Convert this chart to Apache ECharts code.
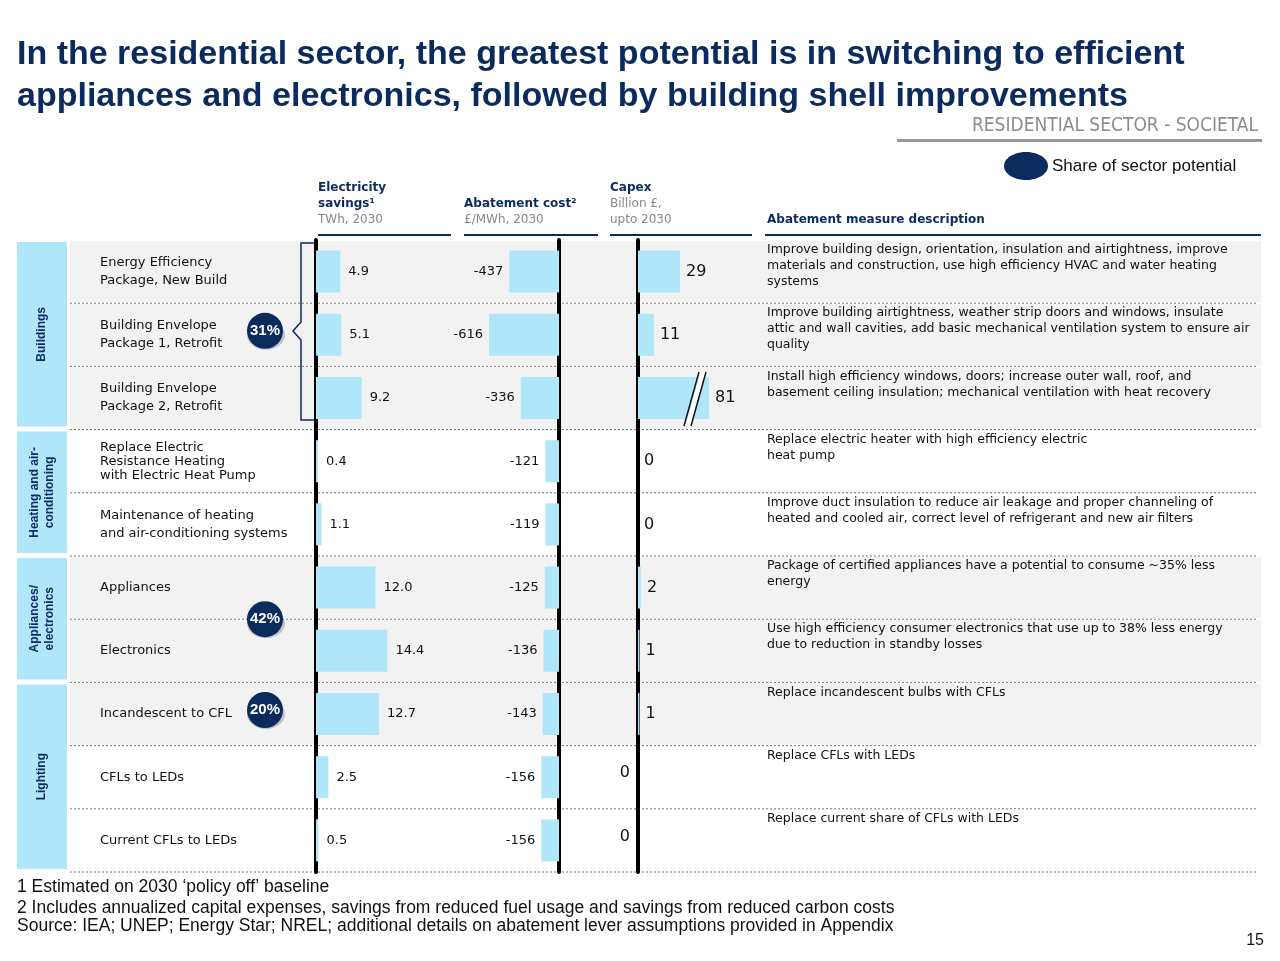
<!DOCTYPE html>
<html>
<head>
<meta charset="utf-8">
<script src="https://cdn.jsdelivr.net/npm/echarts@6/dist/echarts.min.js"></script>
<style>html,body{margin:0;padding:0;background:#fff}#c{width:1280px;height:961px}</style>
</head>
<body>
<div id="c"></div>
<script>
// 数据
var measures = ['Energy Efficiency\nPackage, New Build', 'Building Envelope\nPackage 1, Retrofit', 'Building Envelope\nPackage 2, Retrofit',
  'Replace Electric\nResistance Heating\nwith Electric Heat Pump', 'Maintenance of heating\nand air-conditioning systems',
  'Appliances', 'Electronics', 'Incandescent to CFL', 'CFLs to LEDs', 'Current CFLs to LEDs'];
var savings = [4.9, 5.1, 9.2, 0.4, 1.1, 12.0, 14.4, 12.7, 2.5, 0.5];
var abatement = [-437, -616, -336, -121, -119, -125, -136, -143, -156, -156];
var capex = [29, 11, 81, 0, 0, 2, 1, 1, 0, 0];
var descriptions = [
  'Improve building design, orientation, insulation and airtightness, improve\nmaterials and construction, use high efficiency HVAC and water heating\nsystems',
  'Improve building airtightness, weather strip doors and windows, insulate\nattic and wall cavities, add basic mechanical ventilation system to ensure air\nquality',
  'Install high efficiency windows, doors; increase outer wall, roof, and\nbasement ceiling insulation; mechanical ventilation with heat recovery',
  'Replace electric heater with high efficiency electric\nheat pump',
  'Improve duct insulation to reduce air leakage and proper channeling of\nheated and cooled air, correct level of refrigerant and new air filters',
  'Package of certified appliances have a potential to consume ~35% less\nenergy',
  'Use high efficiency consumer electronics that use up to 38% less energy\ndue to reduction in standby losses',
  'Replace incandescent bulbs with CFLs',
  'Replace CFLs with LEDs',
  'Replace current share of CFLs with LEDs'];
var groups = [['Buildings', 0, 2], ['Heating and air-\nconditioning', 3, 4], ['Appliances/\nelectronics', 5, 6], ['Lighting', 7, 9]];
var shares = [['31%', 1, 0], ['42%', 5, 1], ['20%', 7, 0]]; // label, row, at boundary below

var TOP = 240, H = 632, ROW = H / 10;
var NAVY = '#0b2a5e', BAR = '#b0e6f9', FONT = 'Verdana, "DejaVu Sans", sans-serif';
function cy(i) { return TOP + ROW * (i + 0.5); }

var g = [];
// title
g.push({ type: 'text', x: 17, y: 34, style: { text: 'In the residential sector, the greatest potential is in switching to efficient\nappliances and electronics, followed by building shell improvements', font: 'bold 34px "Liberation Sans", Arial', fill: NAVY, lineHeight: 42 } });
g.push({ type: 'text', x: 1258, y: 126, style: { text: 'RESIDENTIAL SECTOR - SOCIETAL', font: '19px "DejaVu Sans Condensed", sans-serif', fill: '#8c8c8c', align: 'right', verticalAlign: 'middle' } });
g.push({ type: 'rect', shape: { x: 897, y: 139, width: 365, height: 3 }, style: { fill: '#999' } });
g.push({ type: 'ellipse', shape: { cx: 1026, cy: 166, rx: 22, ry: 14 }, style: { fill: NAVY } });
g.push({ type: 'text', x: 1052, y: 166, style: { text: 'Share of sector potential', font: '17px "Liberation Sans", Arial', fill: '#111', verticalAlign: 'middle' } });
// column headers
function header(x, bold, sub, w) {
  g.push({ type: 'text', x: x, y: 180, style: { text: bold, font: 'bold 12px ' + FONT, fill: NAVY, lineHeight: 16 } });
  g.push({ type: 'text', x: x, y: 180 + 16 * bold.split('\n').length, style: { text: sub, font: '12px ' + FONT, fill: '#888', lineHeight: 16 } });
  g.push({ type: 'rect', shape: { x: x, y: 234, width: w, height: 2 }, style: { fill: NAVY } });
}
header(318, 'Electricity\nsavings¹', 'TWh, 2030', 133);
header(464, '\nAbatement cost²', '£/MWh, 2030', 134);
header(610, 'Capex', 'Billion £,\nupto 2030', 142);
g.push({ type: 'text', x: 767, y: 214, style: { text: 'Abatement measure description', font: 'bold 12px ' + FONT, fill: NAVY } });
g.push({ type: 'rect', shape: { x: 765, y: 234, width: 496, height: 2 }, style: { fill: NAVY } });
// row backgrounds, separators, labels
var grey = [0, 1, 2, 5, 6, 7];
measures.forEach(function (m, i) {
  if (grey.indexOf(i) >= 0) g.push({ type: 'rect', z: -10, shape: { x: 70, y: TOP + ROW * i + 1, width: 1191, height: ROW - 2 }, style: { fill: '#f2f2f2' } });
  if (i > 0) g.push({ type: 'line', z: -5, shape: { x1: 70, y1: TOP + ROW * i, x2: 1258, y2: TOP + ROW * i }, style: { stroke: '#777', lineWidth: 1, lineDash: [2, 2] } });
  g.push({ type: 'text', x: 100, y: cy(i), style: { text: m, font: '13px ' + FONT, fill: '#111', lineHeight: i === 3 ? 14 : 18, verticalAlign: 'middle' } });
  g.push({ type: 'text', x: 767, y: TOP + ROW * i + 2, style: { text: descriptions[i], font: '12.5px "DejaVu Sans", Verdana, sans-serif', fill: '#111', lineHeight: 16 } });
});
g.push({ type: 'line', z: -5, shape: { x1: 70, y1: TOP + H, x2: 1258, y2: TOP + H }, style: { stroke: '#777', lineDash: [2, 2] } });
// group blocks
groups.forEach(function (gr) {
  var y0 = TOP + ROW * gr[1] + 2, y1 = TOP + ROW * (gr[2] + 1) - 3;
  g.push({ type: 'rect', shape: { x: 17, y: y0, width: 50, height: y1 - y0 }, style: { fill: BAR } });
  g.push({ type: 'text', x: 42, y: (y0 + y1) / 2, rotation: Math.PI / 2, style: { text: gr[0], font: 'bold 12px "Liberation Sans", Arial', fill: NAVY, align: 'center', verticalAlign: 'middle', lineHeight: 15 } });
});
// bracket for buildings
g.push({ type: 'polyline', shape: { points: [[316, 243], [301, 243], [301, 322], [293, 331], [301, 340], [301, 420], [316, 420]] }, style: { stroke: NAVY, lineWidth: 1.5, fill: null } });
// share bubbles
shares.forEach(function (s) {
  var y = s[2] ? TOP + ROW * (s[1] + 1) : cy(s[1]) - 4;
  g.push({ type: 'ellipse', shape: { cx: 266, cy: y + 4, rx: 19, ry: 15 }, style: { fill: '#333', opacity: 0.25 } });
  g.push({ type: 'circle', shape: { cx: 265, cy: y, r: 18 }, style: { fill: NAVY } });
  g.push({ type: 'text', x: 265, y: y, style: { text: s[0], font: 'bold 15px "Liberation Sans", Arial', fill: '#fff', align: 'center', verticalAlign: 'middle' } });
});
// axis break on capex row 3
g.push({ type: 'line', z: 20, shape: { x1: 684, y1: 426, x2: 699, y2: 372 }, style: { stroke: '#111', lineWidth: 1.5 } });
g.push({ type: 'line', z: 20, shape: { x1: 691, y1: 426, x2: 706, y2: 372 }, style: { stroke: '#111', lineWidth: 1.5 } });
g.push({ type: 'line', z: 19, shape: { x1: 688, y1: 426, x2: 703, y2: 372 }, style: { stroke: '#fff', lineWidth: 5 } });
// footnotes
g.push({ type: 'text', x: 17, y: 887, style: { text: '1 Estimated on 2030 ‘policy off’ baseline', font: '17.5px "Liberation Sans", Arial', fill: '#111', verticalAlign: 'middle' } });
g.push({ type: 'text', x: 17, y: 908, style: { text: '2 Includes annualized capital expenses, savings from reduced fuel usage and savings from reduced carbon costs', font: '17.5px "Liberation Sans", Arial', fill: '#111', verticalAlign: 'middle' } });
g.push({ type: 'text', x: 17, y: 926, style: { text: 'Source: IEA; UNEP; Energy Star; NREL; additional details on abatement lever assumptions provided in Appendix', font: '17.5px "Liberation Sans", Arial', fill: '#111', verticalAlign: 'middle' } });
g.push({ type: 'text', x: 1264, y: 941, style: { text: '15', font: '16px "Liberation Sans", Arial', fill: '#111', align: 'right', verticalAlign: 'middle' } });

function yAx(idx, pos) {
  return { gridIndex: idx, type: 'category', inverse: true, data: measures, position: pos,
    axisLine: { show: true, onZero: false, lineStyle: { color: '#000', width: 4 } }, axisTick: { show: false }, axisLabel: { show: false } };
}
function xAx(idx, min, max) {
  return { gridIndex: idx, type: 'value', min: min, max: max, show: false, splitLine: { show: false } };
}
var lbl = { fontFamily: FONT, fontSize: 13, color: '#111' };
var chart = echarts.init(document.getElementById('c'));
chart.setOption({
  animation: false,
  grid: [
    { left: 316, width: 124, top: TOP, height: H },
    { left: 459, width: 100, top: TOP, height: H },
    { left: 638, width: 71, top: TOP, height: H }
  ],
  xAxis: [xAx(0, 0, 25), xAx(1, -880, 0), xAx(2, 0, 49)],
  yAxis: [yAx(0, 'left'), yAx(1, 'right'), yAx(2, 'left')],
  series: [
    { type: 'bar', xAxisIndex: 0, yAxisIndex: 0, data: savings, barWidth: 42, itemStyle: { color: BAR },
      label: Object.assign({ show: true, position: 'right', distance: 8, formatter: function (p) { return p.value.toFixed(1); } }, lbl) },
    { type: 'bar', xAxisIndex: 1, yAxisIndex: 1, data: abatement, barWidth: 42, itemStyle: { color: BAR },
      label: Object.assign({ show: true, position: 'left', distance: 6 }, lbl) },
    { type: 'bar', xAxisIndex: 2, yAxisIndex: 2, barWidth: 42, itemStyle: { color: BAR },
      data: capex.map(function (v, i) {
        return i >= 8 ? { value: v, label: { position: 'left', offset: [-2, -4] } } : { value: v };
      }),
      label: Object.assign({}, lbl, { show: true, position: 'right', distance: 6, fontSize: 16 }) }
  ],
  graphic: g
});
</script>
</body>
</html>
